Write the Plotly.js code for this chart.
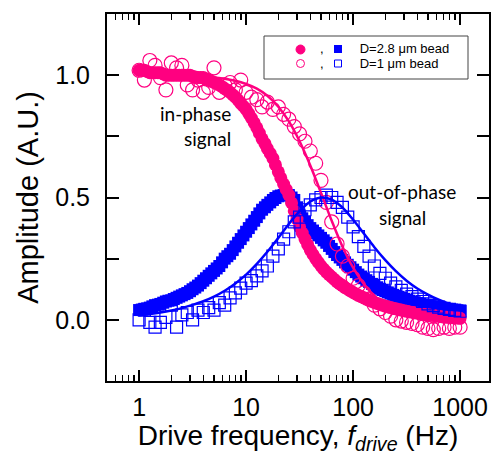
<!DOCTYPE html>
<html><head><meta charset="utf-8">
<script src="https://cdn.plot.ly/plotly-3.0.1.min.js"></script>
<style>html,body{margin:0;padding:0;background:#fff;}#plot{width:493px;height:455px;}</style>
</head><body><div id="plot"></div>
<script>
// drive frequencies (Hz) of the dense D = 2.8 um data (filled markers)
const freqDense = [1.00,1.06,1.12,1.19,1.26,1.33,1.41,1.50,1.58,1.68,1.78,1.88,2.00,2.11,2.24,2.37,2.51,2.66,2.82,2.99,
  3.16,3.35,3.55,3.76,3.98,4.22,4.47,4.73,5.01,5.31,5.62,5.96,6.31,6.68,7.08,7.50,7.94,8.41,8.91,9.44,
  10.0,10.6,11.2,11.9,12.6,13.3,14.1,15.0,15.8,16.8,17.8,18.8,20.0,21.1,22.4,23.7,25.1,26.6,28.2,29.9,
  31.6,33.5,35.5,37.6,39.8,42.2,44.7,47.3,50.1,53.1,56.2,59.6,63.1,66.8,70.8,75.0,79.4,84.1,89.1,94.4,
  100,106,112,119,126,133,141,150,158,168,178,188,200,211,224,237,251,266,282,299,
  316,335,355,376,398,422,447,473,501,531,562,596,631,668,708,750,794,841,891,944,1000];
// D = 2.8 um bead, in-phase (filled circles)
const inPhase28 = [1.02,1.02,1.02,1.015,1.01,1.01,1.01,1.01,1.01,1.005,1.00,1.00,1.00,1.00,1.00,1.00,1.00,1.00,1.00,1.00,
  0.995,0.992,0.99,0.99,0.99,0.985,0.98,0.975,0.97,0.965,0.96,0.953,0.945,0.938,0.93,0.92,0.91,0.898,0.885,0.873,
  0.86,0.843,0.825,0.805,0.785,0.763,0.74,0.72,0.70,0.68,0.66,0.633,0.605,0.58,0.555,0.533,0.51,0.478,0.445,0.412,
  0.38,0.355,0.33,0.307,0.285,0.267,0.25,0.235,0.22,0.207,0.195,0.185,0.175,0.165,0.155,0.147,0.14,0.132,0.125,0.118,
  0.112,0.106,0.10,0.095,0.09,0.085,0.08,0.075,0.071,0.067,0.063,0.06,0.056,0.053,0.05,0.047,0.045,0.042,0.04,0.037,
  0.035,0.033,0.031,0.029,0.027,0.025,0.024,0.022,0.021,0.019,0.018,0.016,0.015,0.013,0.012,0.011,0.01,0.009,0.008,0.007,0.006];
// D = 2.8 um bead, out-of-phase (filled squares)
const outPhase28 = [0.04,0.042,0.045,0.047,0.05,0.055,0.06,0.062,0.065,0.07,0.075,0.078,0.08,0.085,0.09,0.095,0.10,0.105,0.11,0.117,
  0.125,0.132,0.14,0.15,0.16,0.17,0.18,0.19,0.20,0.21,0.22,0.235,0.25,0.26,0.27,0.285,0.30,0.315,0.33,0.345,
  0.36,0.375,0.39,0.405,0.42,0.435,0.45,0.46,0.47,0.48,0.49,0.498,0.505,0.508,0.51,0.51,0.51,0.50,0.49,0.46,
  0.43,0.415,0.40,0.387,0.375,0.365,0.355,0.345,0.335,0.325,0.315,0.302,0.29,0.277,0.265,0.255,0.245,0.235,0.225,0.215,
  0.205,0.195,0.185,0.177,0.17,0.162,0.155,0.147,0.14,0.133,0.127,0.122,0.117,0.112,0.107,0.102,0.098,0.094,0.09,0.086,
  0.082,0.078,0.075,0.072,0.069,0.066,0.063,0.06,0.058,0.056,0.054,0.052,0.05,0.048,0.047,0.045,0.044,0.042,0.041,0.039,0.038];
// drive frequencies (Hz) of the D = 1 um data (open markers)
const freq = [1.00,1.12,1.26,1.41,1.58,1.78,2.00,2.24,2.51,2.82,3.16,3.55,3.98,4.47,5.01,5.62,6.31,7.08,7.94,8.91,
  10.0,11.2,12.6,14.1,15.8,17.8,20.0,22.4,25.1,28.2,31.6,35.5,39.8,44.7,50.1,56.2,63.1,70.8,79.4,89.1,
  100,112,126,141,158,178,200,224,251,282,316,355,398,447,501,562,631,708,794,891,1000];
// D = 1 um bead, in-phase (open circles)
const inPhase1 = [1.02,0.98,1.06,1.04,0.99,0.94,1.05,1.03,1.04,0.96,0.94,0.98,0.93,0.95,1.03,0.93,0.96,0.97,0.94,0.98,
  0.93,0.91,0.90,0.87,0.89,0.86,0.87,0.84,0.82,0.79,0.76,0.73,0.69,0.64,0.57,0.48,0.40,0.31,0.26,0.22,
  0.17,0.14,0.11,0.085,0.06,0.045,0.03,0.015,0.0,-0.005,-0.01,-0.015,-0.02,-0.03,-0.035,-0.04,-0.035,-0.03,-0.035,-0.03,-0.03];
// D = 1 um bead, out-of-phase (open squares)
const outPhase1 = [0.0,0.04,-0.01,-0.03,-0.01,0.01,0.06,-0.03,0.02,0.03,0.0,0.04,0.03,0.05,0.04,0.07,0.06,0.09,0.11,0.13,
  0.15,0.16,0.18,0.20,0.22,0.26,0.29,0.33,0.36,0.40,0.42,0.45,0.47,0.49,0.50,0.51,0.50,0.48,0.46,0.42,
  0.38,0.34,0.30,0.26,0.22,0.19,0.17,0.15,0.135,0.12,0.105,0.095,0.085,0.075,0.065,0.058,0.052,0.047,0.043,0.039,0.035];
// fitted curves for the D = 1 um bead
const fitFreq = [1.00,1.26,1.58,2.00,2.51,3.16,3.98,5.01,6.31,7.94,10.0,12.6,15.8,20.0,25.1,31.6,39.8,50.1,63.1,79.4,
  100,126,158,200,251,316,398,501,631,794,1000];
const inPhaseFit = [1.0,0.999,0.999,0.999,0.998,0.996,0.994,0.991,0.985,0.977,0.964,0.945,0.916,0.871,0.811,0.730,0.631,0.519,0.405,0.300,
  0.213,0.146,0.098,0.063,0.041,0.026,0.017,0.011,0.007,0.004,0.003];
const outPhaseFit = [0.019,0.024,0.030,0.038,0.048,0.061,0.076,0.095,0.119,0.149,0.185,0.229,0.278,0.335,0.392,0.444,0.483,0.500,0.491,0.459,
  0.409,0.353,0.297,0.244,0.199,0.160,0.128,0.103,0.082,0.065,0.052];
const xTickVals = [1,10,100,1000];
const xTickText = ['1','10','100','1000'];
const xMinorVals = [0.6,0.7,0.8,0.9,2,3,4,5,6,7,8,9,20,30,40,50,60,70,80,90,200,300,400,500,600,700,800,900];
const yTickVals = [0,0.5,1.0];
const yTickText = ['0.0','0.5','1.0'];
const yMinorVals = [0.25,0.75];
const legendRows = ['D=2.8 \u03bcm bead','D=1 \u03bcm bead'];

const PINK = '#FF0080', BLUE = '#0000FF';
const traces = [
  {x: freqDense, y: outPhase28, mode:'markers', type:'scatter', marker:{symbol:'square', size:12, color:BLUE, line:{width:0}}},
  {x: freqDense, y: inPhase28, mode:'markers', type:'scatter', marker:{symbol:'circle', size:13, color:PINK, line:{width:0}}},
  {x: freq, y: inPhase1, mode:'markers', type:'scatter', marker:{symbol:'circle-open', size:14, color:PINK, line:{width:1.2}}},
  {x: freq, y: outPhase1, mode:'markers', type:'scatter', marker:{symbol:'square-open', size:12, color:BLUE, line:{width:1.2}}},
  {x: fitFreq, y: inPhaseFit, mode:'lines', type:'scatter', line:{color:PINK, width:2.5, shape:'spline'}},
  {x: fitFreq, y: outPhaseFit, mode:'lines', type:'scatter', line:{color:BLUE, width:2.5, shape:'spline'}}
];

const W = 493, H = 455, L = 107, R = 4, T = 14, B = 74;
const pw = W - L - R, ph = H - T - B;
const px = v => (v - L) / pw;
const py = v => (H - B - v) / ph;

const FONT = 'Liberation Sans, Arial, sans-serif';
const SIG = 'Lato, Open Sans, sans-serif';
const GAP = ',' + '\u00a0'.repeat(10);
const note = (x, y, text, size, family, xa) => ({xref:'paper', yref:'paper', x: px(x), y: py(y), text: text,
  showarrow:false, xanchor: xa || 'center', yanchor:'middle', font:{size:size, family:family, color:'#000'}});
const layout = {
  width: W, height: H,
  margin: {l: L, r: R, t: T, b: B},
  paper_bgcolor: '#fff', plot_bgcolor: '#fff',
  showlegend: false,
  font: {family: FONT, color: '#000'},
  xaxis: {
    type: 'log', range: [-0.3, 3.27],
    tickvals: xTickVals, ticktext: xTickText,
    ticks: 'inside', ticklen: 11, tickwidth: 2, tickcolor: '#000',
    minor: {tickvals: xMinorVals, ticks: 'inside', ticklen: 6, tickwidth: 1.5, tickcolor: '#000'},
    showline: true, linewidth: 2, linecolor: '#000', mirror: 'allticks',
    showgrid: false, zeroline: false,
    tickfont: {size: 25, family: FONT, color: '#000'},
    ticklabelstandoff: 3,
    title: {text: 'Drive frequency, <i>f</i><sub><i>drive</i></sub> (Hz)', font: {size: 28, family: FONT, color: '#000'}, standoff: 0}
  },
  yaxis: {
    range: [-0.25, 1.25],
    tickvals: yTickVals, ticktext: yTickText,
    ticks: 'inside', ticklen: 12, tickwidth: 2, tickcolor: '#000',
    minor: {tickvals: yMinorVals, ticks: 'inside', ticklen: 12, tickwidth: 2, tickcolor: '#000'},
    showline: true, linewidth: 2, linecolor: '#000', mirror: 'allticks',
    showgrid: false, zeroline: false,
    tickfont: {size: 25, family: FONT, color: '#000'},
    ticklabelstandoff: 10,
    title: {text: 'Amplitude (A.U.)', font: {size: 29, family: FONT, color: '#000'}, standoff: 8}
  },
  shapes: [
    {type:'rect', xref:'paper', yref:'paper', x0: px(264), x1: px(468), y0: py(79), y1: py(36), line:{color:'#444', width:1}, fillcolor:'#fff', layer:'above'},
    {type:'circle', xref:'paper', yref:'paper', x0: px(296), x1: px(305), y0: py(54), y1: py(45), line:{color:PINK, width:1}, fillcolor:PINK, layer:'above'},
    {type:'circle', xref:'paper', yref:'paper', x0: px(296.5), x1: px(304.5), y0: py(67.5), y1: py(59.5), line:{color:PINK, width:1}, fillcolor:'rgba(0,0,0,0)', layer:'above'},
    {type:'rect', xref:'paper', yref:'paper', x0: px(334), x1: px(342), y0: py(53), y1: py(45), line:{color:BLUE, width:0}, fillcolor:BLUE, layer:'above'},
    {type:'rect', xref:'paper', yref:'paper', x0: px(334.5), x1: px(341.5), y0: py(67), y1: py(60), line:{color:BLUE, width:1}, fillcolor:'rgba(0,0,0,0)', layer:'above'}
  ],
  annotations: [
    note(318, 49, GAP + legendRows[0], 13, FONT, 'left'),
    note(318, 63.5, GAP + legendRows[1], 13, FONT, 'left'),
    note(195, 113, 'in-phase', 19, SIG),
    note(207, 138, 'signal', 19, SIG),
    note(402, 192, 'out-of-phase', 19, SIG),
    note(402, 217, 'signal', 19, SIG)
  ]
};
Plotly.newPlot('plot', traces, layout, {displayModeBar: false, staticPlot: true});
</script>
</body></html>
